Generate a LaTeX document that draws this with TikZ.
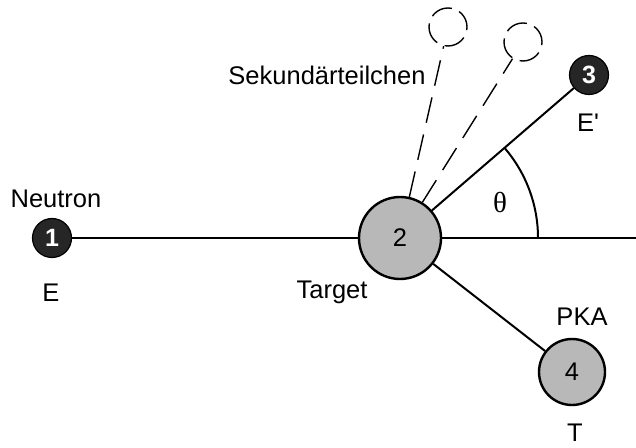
\documentclass[tikz,border=0pt]{standalone}
\usepackage{fontspec}
\setmainfont{Liberation Sans}
\newfontfamily\plainsans{Liberation Sans}
\newfontfamily\greekfont{Liberation Serif}
\begin{document}
\begin{tikzpicture}[x=1pt,y=1pt,
  every node/.style={font=\fontsize{25.5}{30}\selectfont},
  darkball/.style={circle,draw=black,line width=1.2pt,fill=black!85,
    inner sep=0pt,text=white,font=\fontsize{25}{30}\selectfont\bfseries},
  lightball/.style={circle,draw=black,line width=2.4pt,fill=black!28,
    inner sep=0pt,font=\fontsize{25.5}{30}\selectfont},
  ghost/.style={circle,draw=black,line width=1.4pt,
    dash pattern=on 22pt off 8pt,dash phase=4pt,inner sep=0pt,minimum size=38pt},
  track/.style={line width=2pt},
  trail/.style={line width=1.4pt,dash pattern=on 26pt off 12pt},
  lbl/.style={anchor=base,inner sep=0pt}]
\useasboundingbox (0,0) rectangle (636,447);

% particles
\node[darkball,minimum size=39pt] (n1) at (52,209) {1};
\node[lightball,minimum size=82pt] (n2) at (400,209) {2};
\node[darkball,minimum size=39pt] (n3) at (589,372) {3};
\node[lightball,minimum size=66pt] (n4) at (572,75) {4};
\node[ghost] (s1) at (448,420) {};
\node[ghost] (s2) at (523,405) {};
\coordinate (beam) at (636,209);

% tracks
\draw[line width=1.5pt] (n1) -- (n2);
\draw[track] (n2) -- (beam);
\draw[track] (n2) -- (n3);
\draw[track] (n2) -- (n4);
\draw[trail] (n2) -- (s1);
\draw[trail] (n2) -- (s2);

% scattering angle
\draw[track] ([shift={(0:138)}]n2.center) arc[start angle=0,end angle=40.8,radius=138];
\node[lbl,font=\fontsize{29}{32}\selectfont\greekfont] (theta) at (500,234) {θ};

% labels
\node[lbl] (lneutron) at (56,239) {Neutron};
\node[lbl] (lE) at (51,146) {E};
\node[lbl] (ltarget) at (332,148) {Target};
\node[lbl] (lpka) at (582,122) {PKA};
\node[lbl] (lT) at (575,6) {T};
\node[lbl,font=\fontsize{25.5}{30}\selectfont\plainsans] (lEp) at (588,315) {E'};
\node[lbl] (lsek) at (327,362) {Sekundärteilchen};
\end{tikzpicture}
\end{document}
